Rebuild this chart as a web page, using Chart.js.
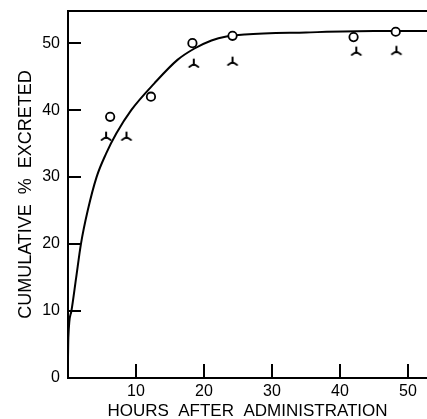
<!DOCTYPE html>
<html>
<head>
<meta charset="utf-8">
<script src="https://cdn.jsdelivr.net/npm/chart.js@4/dist/chart.umd.min.js"></script>
<style>
  html, body { margin: 0; padding: 0; background: #fff; }
  #wrap { width: 427px; height: 419px; position: relative; }
</style>
</head>
<body>
<div id="wrap"><canvas id="c" width="427" height="419"></canvas></div>
<script>
// ---- data ----
const circleHours  = [6.2, 12.2, 18.3, 24.2, 42.0, 48.2];
const circleValues = [39.0, 42.0, 50.0, 51.1, 50.9, 51.7];

const triHours  = [5.6, 8.6, 18.5, 24.2, 42.4, 48.3];
const triValues = [36.0, 36.0, 46.9, 47.2, 48.7, 48.8];

const curveHours  = [0, 0.05, 0.5, 1.2, 1.9, 2.9, 4.2, 5.6, 7.1, 9.3, 12.7, 16.1, 18.6, 21.1, 23.3, 26, 35, 45, 53];
const curveValues = [3, 6, 10, 15, 20, 25, 30, 33.5, 36.5, 40, 44, 47.5, 49.2, 50.4, 51.0, 51.3, 51.6, 51.8, 51.8];

const xTickValues = [10, 20, 30, 40, 50];
const yTickValues = [0, 10, 20, 30, 40, 50];

const xTitle = 'HOURS  AFTER  ADMINISTRATION';
const yTitle = 'CUMULATIVE  %  EXCRETED';

// ---- helpers ----
const pairs = (xs, ys) => xs.map((x, i) => ({ x: x, y: ys[i] }));

function makeTri() {
  const c = document.createElement('canvas');
  c.width = 14; c.height = 14;
  const g = c.getContext('2d');
  g.strokeStyle = '#000';
  g.lineWidth = 2;
  g.lineCap = 'round';
  const cx = 7, cy = 7;
  g.beginPath();
  g.moveTo(cx, cy); g.lineTo(cx, cy - 4.5);
  g.moveTo(cx, cy); g.lineTo(cx - 4.5, cy + 3);
  g.moveTo(cx, cy); g.lineTo(cx + 4.5, cy + 3);
  g.stroke();
  return c;
}

const frame = {
  id: 'frame',
  afterDatasetsDraw(chart) {
    const { ctx, chartArea: a, scales } = chart;
    ctx.save();
    ctx.strokeStyle = '#000';
    ctx.lineWidth = 2;
    ctx.beginPath();
    ctx.moveTo(a.left - 1, a.top);
    ctx.lineTo(a.right, a.top);
    xTickValues.forEach(v => {
      const px = Math.round(scales.x.getPixelForValue(v));
      ctx.moveTo(px, a.bottom);
      ctx.lineTo(px, a.bottom - 14);
    });
    yTickValues.forEach(v => {
      const py = Math.round(scales.y.getPixelForValue(v));
      ctx.moveTo(a.left, py);
      ctx.lineTo(a.left + 13, py);
    });
    ctx.stroke();
    ctx.restore();
  }
};

const font = { family: "'Liberation Sans', Arial, sans-serif", size: 16 };

new Chart(document.getElementById('c'), {
  type: 'scatter',
  data: {
    datasets: [
      {
        label: 'circles',
        data: pairs(circleHours, circleValues),
        pointStyle: 'circle',
        pointRadius: 4.2,
        pointBorderWidth: 1.8,
        pointBorderColor: '#000',
        pointBackgroundColor: '#fff',
        order: 0
      },
      {
        label: 'tri',
        data: pairs(triHours, triValues),
        pointStyle: makeTri(),
        order: 1
      },
      {
        label: 'curve',
        data: pairs(curveHours, curveValues),
        showLine: true,
        pointRadius: 0,
        borderColor: '#000',
        borderWidth: 2,
        cubicInterpolationMode: 'monotone',
        order: 2
      }
    ]
  },
  options: {
    responsive: false,
    animation: false,
    devicePixelRatio: 1,
    layout: { autoPadding: false, padding: { top: 11, right: 0, left: 0, bottom: 0 } },
    plugins: { legend: { display: false }, tooltip: { enabled: false } },
    scales: {
      x: {
        type: 'linear',
        min: 0,
        max: 52.8,
        afterBuildTicks: s => { s.ticks = xTickValues.map(v => ({ value: v })); },
        afterFit: s => { s.height = 41; s.paddingLeft = 0; s.paddingRight = 0; },
        grid: { display: false, drawTicks: false },
        border: { display: true, color: '#000', width: 2 },
        ticks: { color: '#000', font: font, padding: 4, maxRotation: 0, autoSkip: false },
        title: { display: true, text: xTitle, color: '#000',
                 font: { family: font.family, size: 17 }, padding: { top: 0, bottom: -3 } }
      },
      y: {
        type: 'linear',
        min: 0,
        max: 54.8,
        afterBuildTicks: s => { s.ticks = yTickValues.map(v => ({ value: v })); },
        afterFit: s => { s.width = 68; s.paddingTop = 0; s.paddingBottom = 0; },
        grid: { display: false, drawTicks: false },
        border: { display: true, color: '#000', width: 2 },
        ticks: { color: '#000', font: font, padding: 8, autoSkip: false },
        title: { display: true, text: yTitle, color: '#000',
                 font: { family: font.family, size: 18 }, padding: { top: 15, bottom: 0 } }
      }
    }
  },
  plugins: [frame]
});
</script>
</body>
</html>
